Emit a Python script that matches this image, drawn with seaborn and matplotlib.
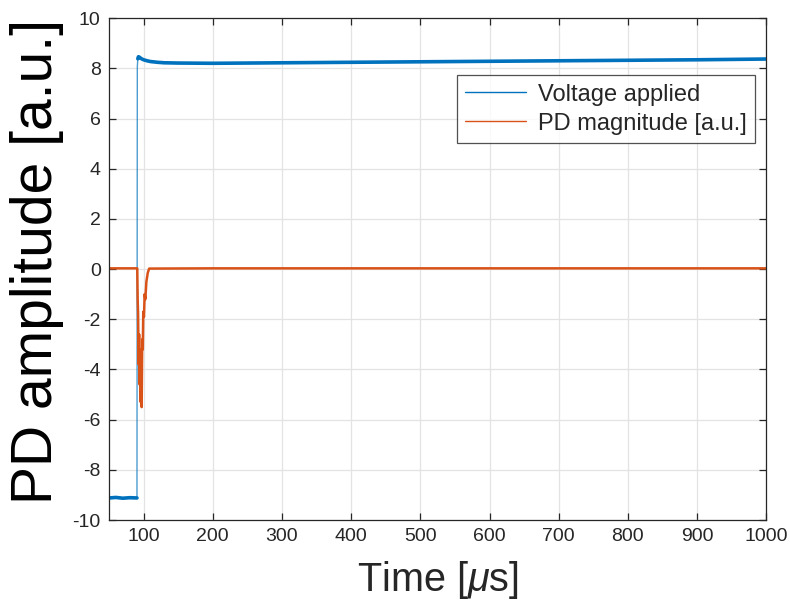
import matplotlib
matplotlib.use("Agg")
import matplotlib.pyplot as plt
from matplotlib.lines import Line2D
import seaborn as sns
import pandas as pd

# ---- data ----
volt_t = [50, 60, 70, 80, 90.4, 90.9, 91.6, 92.5, 93.5, 95, 97, 100, 105, 110, 120, 130,
          150, 200, 300, 400, 500, 600, 700, 800, 900, 1000]
volt_v = [-9.12, -9.10, -9.13, -9.11, -9.12, 8.05, 8.38, 8.46, 8.45, 8.42, 8.38, 8.34, 8.3,
          8.27, 8.24, 8.22, 8.21, 8.2, 8.22, 8.24, 8.26, 8.28, 8.3, 8.32, 8.34, 8.37]
pd_t = [50, 90.8, 91.4, 92.0, 92.8, 93.5, 94.3, 95.0, 95.8, 96.5, 97.2, 98.0, 98.8, 99.5,
        100.5, 101.5, 102.5, 104, 106, 108, 200, 400, 600, 800, 1000]
pd_v = [0.03, 0.03, -1.2, -1.8, -3.8, -2.6, -4.6, -3.2, -5.3, -4.0, -5.5, -2.8, -3.2, -1.7,
        -1.9, -1.0, -1.2, -0.5, -0.15, 0.02, 0.03, 0.03, 0.03, 0.03, 0.03]
x_ticks = [100, 200, 300, 400, 500, 600, 700, 800, 900, 1000]
y_ticks = [-10, -8, -6, -4, -2, 0, 2, 4, 6, 8, 10]
series_names = ["Voltage applied", "PD magnitude [a.u.]"]

volt_df = pd.DataFrame({"t": volt_t, "v": volt_v})
pd_df = pd.DataFrame({"t": pd_t, "v": pd_v})

sns.set_style("ticks")
plt.rcParams["font.family"] = ["Liberation Sans", "DejaVu Sans"]
plt.rcParams["axes.unicode_minus"] = False
plt.rcParams["mathtext.fontset"] = "custom"
plt.rcParams["mathtext.it"] = "Liberation Sans:italic"
plt.rcParams["mathtext.rm"] = "Liberation Sans"

BLUE = "#0072BD"
ORANGE = "#D95319"
DARK = "#262626"

fig = plt.figure(figsize=(7.9, 6.04), dpi=100)
ax = fig.add_axes([0.138, 0.139, 0.832, 0.831])

# voltage: thin line through the step, thick band on the plateaus
sns.lineplot(data=volt_df, x="t", y="v", ax=ax, color=BLUE, lw=1.0, alpha=0.7)
sns.lineplot(data=volt_df[volt_df.t <= 90.4], x="t", y="v", ax=ax, color=BLUE, lw=2.6)
sns.lineplot(data=volt_df[volt_df.t >= 91.6], x="t", y="v", ax=ax, color=BLUE, lw=2.6)
sns.lineplot(data=pd_df, x="t", y="v", ax=ax, color=ORANGE, lw=1.8)

ax.set_xlim(50, 1000)
ax.set_ylim(-10, 10)
ax.set_xticks(x_ticks)
ax.set_yticks(y_ticks)
ax.set_xticklabels([str(v) for v in x_ticks])
ax.set_yticklabels([str(v) for v in y_ticks])
ax.grid(True, color="#e3e3e3", lw=0.9)
ax.set_axisbelow(True)
ax.tick_params(direction="in", length=5, width=0.9, colors=DARK, labelsize=14,
               top=True, right=True, pad=6)
for s in ax.spines.values():
    s.set_color(DARK)
    s.set_linewidth(0.9)

ax.set_xlabel("Time [$\\mathit{\\mu}$s]", fontsize=28.5, color=DARK, labelpad=10)
ax.set_ylabel("PD amplitude [a.u.]", fontsize=41, color="black", labelpad=6)
ax.yaxis.label.set_y(0.516)

handles = [Line2D([], [], color=BLUE, lw=1.0), Line2D([], [], color=ORANGE, lw=1.0)]
leg = ax.legend(handles, series_names, loc="upper right", bbox_to_anchor=(0.983, 0.886),
                fontsize=17, frameon=True, fancybox=False, handlelength=2.6,
                borderpad=0.35, labelspacing=0.3, handletextpad=0.5, borderaxespad=0)
leg.get_frame().set_edgecolor(DARK)
leg.get_frame().set_linewidth(0.9)

fig.savefig("out.png", dpi=100)
